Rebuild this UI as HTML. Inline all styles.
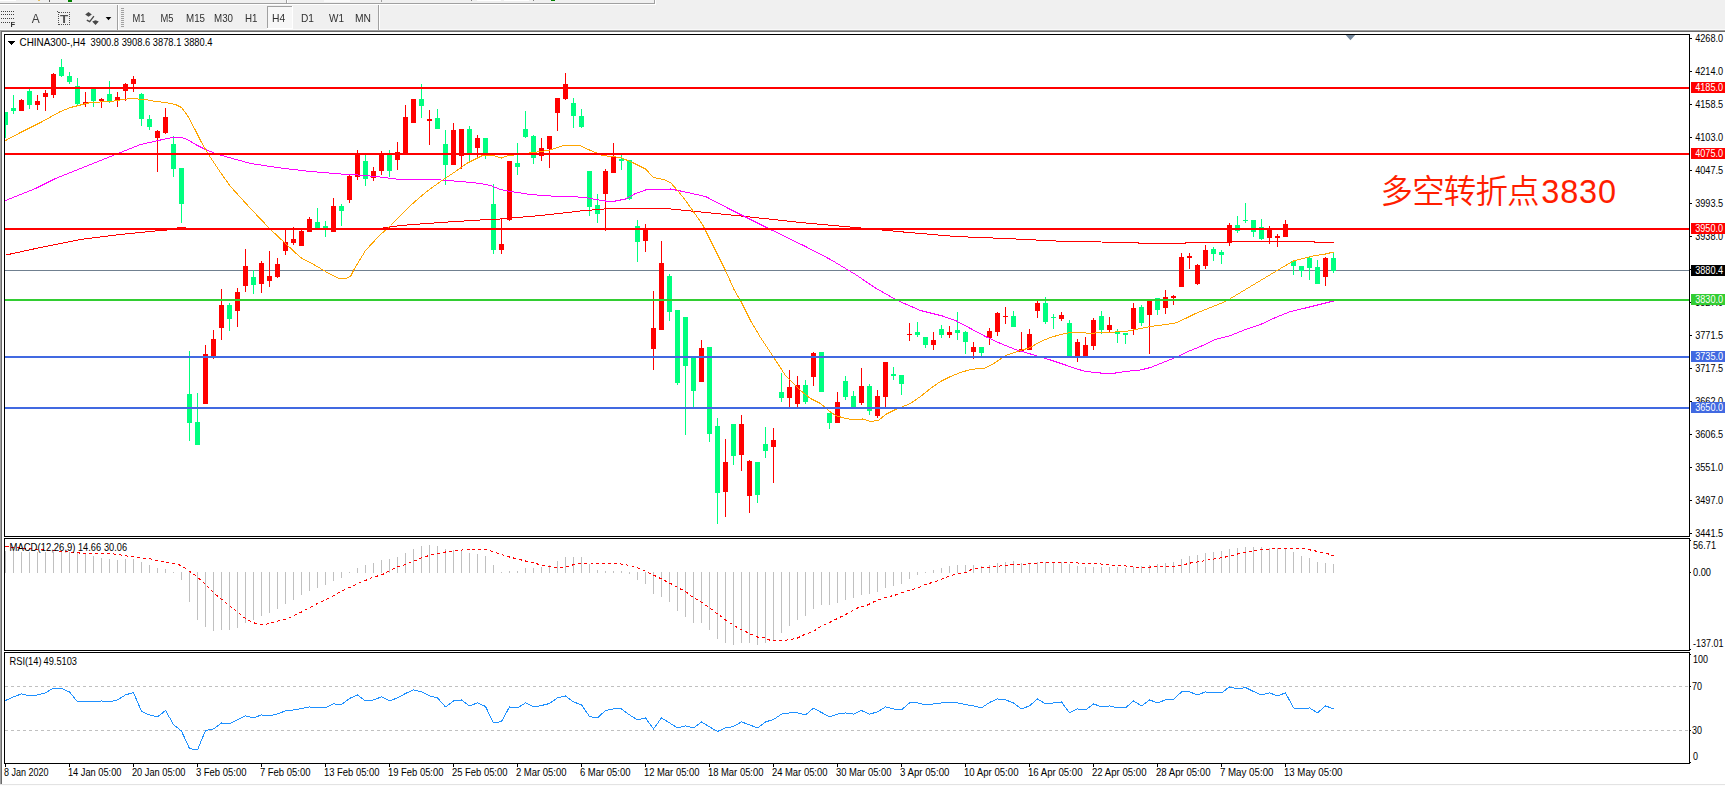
<!DOCTYPE html>
<html lang="zh"><head><meta charset="utf-8"><title>CHINA300-,H4</title>
<style>html,body{margin:0;padding:0;background:#fff;}body{width:1725px;height:786px;overflow:hidden;position:relative;}svg{position:absolute;left:0;top:0;display:block;}text{font-family:"Liberation Sans", sans-serif;white-space:pre;}.cn{font-family:"Liberation Sans","Noto Sans CJK SC",sans-serif;font-weight:350;}</style></head><body>
<svg width="1725" height="786" viewBox="0 0 1725 786" shape-rendering="crispEdges">
<defs><filter id="idf" x="0" y="0" width="1" height="1" color-interpolation-filters="sRGB"><feOffset dx="0" dy="0"/></filter></defs>
<g id="toolbar">
<rect x="0" y="0" width="1725" height="30" fill="#f0f0f0"/>
<rect x="0" y="3" width="655" height="1" fill="#a0a0a0"/>
<rect x="0" y="4" width="656" height="1" fill="#ffffff"/>
<rect x="654" y="0" width="1" height="3" fill="#a0a0a0"/>
<rect x="655" y="0" width="1" height="4" fill="#ffffff"/>
<rect x="477" y="0" width="24" height="1" fill="#ffffff"/>
<rect x="504" y="0" width="25" height="1" fill="#ffffff"/>
<rect x="471" y="0" width="1" height="1" fill="#808080"/>
<rect x="533" y="0" width="1" height="1" fill="#808080"/>
<rect x="551" y="0" width="4" height="1" fill="#008000"/>
<rect x="0" y="29" width="1725" height="1" fill="#fafafa"/>
<rect x="0" y="30" width="1725" height="1" fill="#a0a0a0"/>
<rect x="1" y="31" width="1724" height="1" fill="#696969"/>
<rect x="0" y="0" width="16" height="1" fill="#ffffff"/>
<rect x="38" y="0" width="2" height="1" fill="#e8c060"/>
<rect x="49" y="0" width="1" height="2" fill="#606060"/>
<rect x="68" y="0" width="4" height="2" fill="#008000"/>
<rect x="286" y="0" width="1" height="3" fill="#a0a0a0"/>
<rect x="287" y="0" width="1" height="3" fill="#ffffff"/>
<rect x="117" y="5" width="1" height="25" fill="#a0a0a0"/>
<rect x="118" y="5" width="1" height="25" fill="#ffffff"/>
<rect x="378" y="5" width="1" height="25" fill="#a0a0a0"/>
<rect x="379" y="5" width="1" height="25" fill="#ffffff"/>
<rect x="324" y="0" width="26" height="2" fill="#fafafa"/>
<rect x="381" y="0" width="1" height="2" fill="#a0a0a0"/>
<rect x="121" y="8" width="3" height="1" fill="#a0a0a0"/>
<rect x="121" y="10" width="3" height="1" fill="#a0a0a0"/>
<rect x="121" y="12" width="3" height="1" fill="#a0a0a0"/>
<rect x="121" y="14" width="3" height="1" fill="#a0a0a0"/>
<rect x="121" y="16" width="3" height="1" fill="#a0a0a0"/>
<rect x="121" y="18" width="3" height="1" fill="#a0a0a0"/>
<rect x="121" y="20" width="3" height="1" fill="#a0a0a0"/>
<rect x="121" y="22" width="3" height="1" fill="#a0a0a0"/>
<rect x="121" y="24" width="3" height="1" fill="#a0a0a0"/>
<rect x="121" y="26" width="3" height="1" fill="#a0a0a0"/>
<g filter="url(#idf)">
<rect x="1" y="11" width="1" height="1" fill="#404040"/>
<rect x="3" y="11" width="1" height="1" fill="#404040"/>
<rect x="5" y="11" width="1" height="1" fill="#404040"/>
<rect x="7" y="11" width="1" height="1" fill="#404040"/>
<rect x="9" y="11" width="1" height="1" fill="#404040"/>
<rect x="11" y="11" width="1" height="1" fill="#404040"/>
<rect x="13" y="11" width="1" height="1" fill="#404040"/>
<rect x="1" y="14" width="1" height="1" fill="#404040"/>
<rect x="3" y="14" width="1" height="1" fill="#404040"/>
<rect x="5" y="14" width="1" height="1" fill="#404040"/>
<rect x="7" y="14" width="1" height="1" fill="#404040"/>
<rect x="9" y="14" width="1" height="1" fill="#404040"/>
<rect x="11" y="14" width="1" height="1" fill="#404040"/>
<rect x="13" y="14" width="1" height="1" fill="#404040"/>
<rect x="1" y="18" width="1" height="1" fill="#404040"/>
<rect x="3" y="18" width="1" height="1" fill="#404040"/>
<rect x="5" y="18" width="1" height="1" fill="#404040"/>
<rect x="7" y="18" width="1" height="1" fill="#404040"/>
<rect x="9" y="18" width="1" height="1" fill="#404040"/>
<rect x="11" y="18" width="1" height="1" fill="#404040"/>
<rect x="13" y="18" width="1" height="1" fill="#404040"/>
<rect x="1" y="22" width="1" height="1" fill="#404040"/>
<rect x="3" y="22" width="1" height="1" fill="#404040"/>
<rect x="5" y="22" width="1" height="1" fill="#404040"/>
<rect x="7" y="22" width="1" height="1" fill="#404040"/>
<rect x="9" y="22" width="1" height="1" fill="#404040"/>
<text x="10.6" y="27" fill="#303030" font-size="7.4" textLength="4.6" lengthAdjust="spacingAndGlyphs" font-weight="bold">F</text>
<text x="31.8" y="23" fill="#404040" font-size="12.9" textLength="8" lengthAdjust="spacingAndGlyphs">A</text>
<rect x="59" y="12" width="1" height="1" fill="#505050"/>
<rect x="59" y="24" width="1" height="1" fill="#505050"/>
<rect x="61" y="12" width="1" height="1" fill="#505050"/>
<rect x="61" y="24" width="1" height="1" fill="#505050"/>
<rect x="63" y="12" width="1" height="1" fill="#505050"/>
<rect x="63" y="24" width="1" height="1" fill="#505050"/>
<rect x="65" y="12" width="1" height="1" fill="#505050"/>
<rect x="65" y="24" width="1" height="1" fill="#505050"/>
<rect x="67" y="12" width="1" height="1" fill="#505050"/>
<rect x="67" y="24" width="1" height="1" fill="#505050"/>
<rect x="69" y="12" width="1" height="1" fill="#505050"/>
<rect x="69" y="24" width="1" height="1" fill="#505050"/>
<rect x="58" y="14" width="1" height="1" fill="#505050"/>
<rect x="69" y="14" width="1" height="1" fill="#505050"/>
<rect x="58" y="16" width="1" height="1" fill="#505050"/>
<rect x="69" y="16" width="1" height="1" fill="#505050"/>
<rect x="58" y="18" width="1" height="1" fill="#505050"/>
<rect x="69" y="18" width="1" height="1" fill="#505050"/>
<rect x="58" y="20" width="1" height="1" fill="#505050"/>
<rect x="69" y="20" width="1" height="1" fill="#505050"/>
<rect x="58" y="22" width="1" height="1" fill="#505050"/>
<rect x="69" y="22" width="1" height="1" fill="#505050"/>
<rect x="58" y="24" width="1" height="1" fill="#505050"/>
<rect x="69" y="24" width="1" height="1" fill="#505050"/>
<rect x="57" y="11" width="1" height="1" fill="#505050"/>
<rect x="58" y="12" width="1" height="1" fill="#505050"/>
<text x="59.9" y="23" fill="#505050" font-size="10.8" textLength="8.2" lengthAdjust="spacingAndGlyphs" font-weight="bold">T</text>
<path d="M85.2 14.6L88.5 12L91.8 14.6L88.5 16.7zM92.2 21.6L95.5 20.2L98.8 21.6L95.5 25z" fill="#484848" shape-rendering="geometricPrecision"/>
<path d="M86.8 20.2L89.7 21.7L93.9 16.2" fill="none" stroke="#484848" stroke-width="1.3" shape-rendering="geometricPrecision"/>
<path d="M105.7 17h5.6l-2.8 3.3z" fill="#000" shape-rendering="geometricPrecision"/>
<rect x="267" y="6" width="26" height="23" fill="#f7f7f7"/>
<rect x="267" y="6" width="25" height="1" fill="#a0a0a0"/>
<rect x="267" y="6" width="1" height="22" fill="#a0a0a0"/>
<rect x="267" y="28" width="26" height="1" fill="#ffffff"/>
<rect x="292" y="6" width="1" height="23" fill="#ffffff"/>
<text x="132.5" y="22" fill="#303030" font-size="10.3" textLength="13" lengthAdjust="spacingAndGlyphs">M1</text>
<text x="160.5" y="22" fill="#303030" font-size="10.3" textLength="13" lengthAdjust="spacingAndGlyphs">M5</text>
<text x="186" y="22" fill="#303030" font-size="10.3" textLength="19" lengthAdjust="spacingAndGlyphs">M15</text>
<text x="214" y="22" fill="#303030" font-size="10.3" textLength="19" lengthAdjust="spacingAndGlyphs">M30</text>
<text x="245" y="22" fill="#303030" font-size="10.3" textLength="12.5" lengthAdjust="spacingAndGlyphs">H1</text>
<text x="272" y="22" fill="#303030" font-size="10.3" textLength="13.2" lengthAdjust="spacingAndGlyphs">H4</text>
<text x="301" y="22" fill="#303030" font-size="10.3" textLength="13" lengthAdjust="spacingAndGlyphs">D1</text>
<text x="329" y="22" fill="#303030" font-size="10.3" textLength="15" lengthAdjust="spacingAndGlyphs">W1</text>
<text x="355" y="22" fill="#303030" font-size="10.3" textLength="16" lengthAdjust="spacingAndGlyphs">MN</text>
</g>
</g>
<rect x="0" y="31" width="1" height="754" fill="#a0a0a0"/>
<rect x="1" y="32" width="1" height="752" fill="#696969"/>
<rect x="0" y="784" width="1725" height="1" fill="#e3e3e3"/>
<rect x="0" y="785" width="1725" height="1" fill="#fcfcfc"/>
<rect x="4" y="34" width="1686" height="1" fill="#000"/>
<rect x="4" y="536" width="1686" height="1" fill="#000"/>
<rect x="4" y="34" width="1" height="503" fill="#000"/>
<rect x="1689" y="34" width="1" height="503" fill="#000"/>
<rect x="4" y="538" width="1686" height="1" fill="#000"/>
<rect x="4" y="650" width="1686" height="1" fill="#000"/>
<rect x="4" y="538" width="1" height="113" fill="#000"/>
<rect x="1689" y="538" width="1" height="113" fill="#000"/>
<rect x="4" y="652" width="1686" height="1" fill="#000"/>
<rect x="4" y="763" width="1686" height="1" fill="#000"/>
<rect x="4" y="652" width="1" height="112" fill="#000"/>
<rect x="1689" y="652" width="1" height="112" fill="#000"/>
<defs><clipPath id="cm"><rect x="5" y="35" width="1684" height="501"/></clipPath></defs>
<g id="main" clip-path="url(#cm)">
<rect x="5" y="270" width="1684" height="1" fill="#708090"/>
<rect x="5" y="112" width="1" height="26" fill="#00ff7f"/>
<rect x="3" y="112" width="5" height="13" fill="#00ff7f"/>
<rect x="13" y="95" width="1" height="19" fill="#00ff7f"/>
<rect x="11" y="108" width="5" height="3" fill="#00ff7f"/>
<rect x="21" y="99" width="1" height="12" fill="#ff0000"/>
<rect x="19" y="100" width="5" height="11" fill="#ff0000"/>
<rect x="29" y="89" width="1" height="20" fill="#00ff7f"/>
<rect x="27" y="91" width="5" height="14" fill="#00ff7f"/>
<rect x="37" y="95" width="1" height="15" fill="#ff0000"/>
<rect x="35" y="101" width="5" height="4" fill="#ff0000"/>
<rect x="45" y="90" width="1" height="21" fill="#ff0000"/>
<rect x="43" y="93" width="5" height="4" fill="#ff0000"/>
<rect x="53" y="73" width="1" height="25" fill="#ff0000"/>
<rect x="51" y="74" width="5" height="21" fill="#ff0000"/>
<rect x="61" y="59" width="1" height="18" fill="#00ff7f"/>
<rect x="59" y="67" width="5" height="9" fill="#00ff7f"/>
<rect x="69" y="72" width="1" height="12" fill="#00ff7f"/>
<rect x="67" y="76" width="5" height="6" fill="#00ff7f"/>
<rect x="77" y="78" width="1" height="27" fill="#00ff7f"/>
<rect x="75" y="86" width="5" height="18" fill="#00ff7f"/>
<rect x="85" y="92" width="1" height="15" fill="#ff0000"/>
<rect x="83" y="102" width="5" height="2" fill="#ff0000"/>
<rect x="93" y="89" width="1" height="18" fill="#00ff7f"/>
<rect x="91" y="89" width="5" height="12" fill="#00ff7f"/>
<rect x="101" y="98" width="1" height="10" fill="#ff0000"/>
<rect x="99" y="99" width="5" height="2" fill="#ff0000"/>
<rect x="109" y="81" width="1" height="22" fill="#00ff7f"/>
<rect x="107" y="94" width="5" height="7" fill="#00ff7f"/>
<rect x="117" y="92" width="1" height="15" fill="#ff0000"/>
<rect x="115" y="97" width="5" height="4" fill="#ff0000"/>
<rect x="125" y="83" width="1" height="18" fill="#ff0000"/>
<rect x="123" y="84" width="5" height="7" fill="#ff0000"/>
<rect x="133" y="76" width="1" height="16" fill="#ff0000"/>
<rect x="131" y="79" width="5" height="5" fill="#ff0000"/>
<rect x="141" y="93" width="1" height="33" fill="#00ff7f"/>
<rect x="139" y="94" width="5" height="25" fill="#00ff7f"/>
<rect x="149" y="115" width="1" height="15" fill="#00ff7f"/>
<rect x="147" y="119" width="5" height="8" fill="#00ff7f"/>
<rect x="157" y="130" width="1" height="42" fill="#ff0000"/>
<rect x="155" y="131" width="5" height="7" fill="#ff0000"/>
<rect x="165" y="108" width="1" height="26" fill="#ff0000"/>
<rect x="163" y="117" width="5" height="16" fill="#ff0000"/>
<rect x="173" y="136" width="1" height="41" fill="#00ff7f"/>
<rect x="171" y="144" width="5" height="25" fill="#00ff7f"/>
<rect x="181" y="168" width="1" height="55" fill="#00ff7f"/>
<rect x="179" y="168" width="5" height="36" fill="#00ff7f"/>
<rect x="189" y="351" width="1" height="90" fill="#00ff7f"/>
<rect x="187" y="394" width="5" height="29" fill="#00ff7f"/>
<rect x="197" y="393" width="1" height="52" fill="#00ff7f"/>
<rect x="195" y="422" width="5" height="23" fill="#00ff7f"/>
<rect x="205" y="345" width="1" height="59" fill="#ff0000"/>
<rect x="203" y="354" width="5" height="50" fill="#ff0000"/>
<rect x="213" y="330" width="1" height="29" fill="#ff0000"/>
<rect x="211" y="339" width="5" height="18" fill="#ff0000"/>
<rect x="221" y="289" width="1" height="51" fill="#ff0000"/>
<rect x="219" y="305" width="5" height="23" fill="#ff0000"/>
<rect x="229" y="303" width="1" height="28" fill="#00ff7f"/>
<rect x="227" y="305" width="5" height="14" fill="#00ff7f"/>
<rect x="237" y="288" width="1" height="39" fill="#ff0000"/>
<rect x="235" y="292" width="5" height="19" fill="#ff0000"/>
<rect x="245" y="249" width="1" height="43" fill="#ff0000"/>
<rect x="243" y="266" width="5" height="20" fill="#ff0000"/>
<rect x="253" y="270" width="1" height="24" fill="#00ff7f"/>
<rect x="251" y="277" width="5" height="8" fill="#00ff7f"/>
<rect x="261" y="261" width="1" height="32" fill="#ff0000"/>
<rect x="259" y="263" width="5" height="21" fill="#ff0000"/>
<rect x="269" y="251" width="1" height="36" fill="#ff0000"/>
<rect x="267" y="276" width="5" height="5" fill="#ff0000"/>
<rect x="277" y="258" width="1" height="20" fill="#ff0000"/>
<rect x="275" y="264" width="5" height="13" fill="#ff0000"/>
<rect x="285" y="230" width="1" height="25" fill="#ff0000"/>
<rect x="283" y="242" width="5" height="9" fill="#ff0000"/>
<rect x="293" y="227" width="1" height="18" fill="#ff0000"/>
<rect x="291" y="239" width="5" height="4" fill="#ff0000"/>
<rect x="301" y="230" width="1" height="16" fill="#ff0000"/>
<rect x="299" y="231" width="5" height="15" fill="#ff0000"/>
<rect x="309" y="217" width="1" height="15" fill="#ff0000"/>
<rect x="307" y="219" width="5" height="13" fill="#ff0000"/>
<rect x="317" y="208" width="1" height="20" fill="#00ff7f"/>
<rect x="315" y="222" width="5" height="6" fill="#00ff7f"/>
<rect x="325" y="221" width="1" height="16" fill="#00ff7f"/>
<rect x="323" y="226" width="5" height="2" fill="#00ff7f"/>
<rect x="333" y="198" width="1" height="34" fill="#ff0000"/>
<rect x="331" y="206" width="5" height="26" fill="#ff0000"/>
<rect x="341" y="204" width="1" height="22" fill="#00ff7f"/>
<rect x="339" y="206" width="5" height="5" fill="#00ff7f"/>
<rect x="349" y="174" width="1" height="29" fill="#ff0000"/>
<rect x="347" y="176" width="5" height="24" fill="#ff0000"/>
<rect x="357" y="150" width="1" height="30" fill="#ff0000"/>
<rect x="355" y="154" width="5" height="23" fill="#ff0000"/>
<rect x="365" y="155" width="1" height="31" fill="#00ff7f"/>
<rect x="363" y="161" width="5" height="18" fill="#00ff7f"/>
<rect x="373" y="167" width="1" height="14" fill="#ff0000"/>
<rect x="371" y="171" width="5" height="7" fill="#ff0000"/>
<rect x="381" y="151" width="1" height="24" fill="#ff0000"/>
<rect x="379" y="154" width="5" height="17" fill="#ff0000"/>
<rect x="389" y="150" width="1" height="27" fill="#00ff7f"/>
<rect x="387" y="155" width="5" height="16" fill="#00ff7f"/>
<rect x="397" y="142" width="1" height="28" fill="#ff0000"/>
<rect x="395" y="152" width="5" height="8" fill="#ff0000"/>
<rect x="405" y="105" width="1" height="49" fill="#ff0000"/>
<rect x="403" y="117" width="5" height="37" fill="#ff0000"/>
<rect x="413" y="99" width="1" height="24" fill="#ff0000"/>
<rect x="411" y="99" width="5" height="24" fill="#ff0000"/>
<rect x="421" y="84" width="1" height="34" fill="#00ff7f"/>
<rect x="419" y="99" width="5" height="7" fill="#00ff7f"/>
<rect x="429" y="110" width="1" height="35" fill="#ff0000"/>
<rect x="427" y="119" width="5" height="2" fill="#ff0000"/>
<rect x="437" y="109" width="1" height="20" fill="#00ff7f"/>
<rect x="435" y="118" width="5" height="11" fill="#00ff7f"/>
<rect x="445" y="130" width="1" height="55" fill="#00ff7f"/>
<rect x="443" y="144" width="5" height="21" fill="#00ff7f"/>
<rect x="453" y="123" width="1" height="42" fill="#ff0000"/>
<rect x="451" y="130" width="5" height="35" fill="#ff0000"/>
<rect x="461" y="129" width="1" height="40" fill="#ff0000"/>
<rect x="459" y="129" width="5" height="27" fill="#ff0000"/>
<rect x="469" y="126" width="1" height="37" fill="#00ff7f"/>
<rect x="467" y="129" width="5" height="24" fill="#00ff7f"/>
<rect x="477" y="135" width="1" height="22" fill="#ff0000"/>
<rect x="475" y="138" width="5" height="10" fill="#ff0000"/>
<rect x="485" y="138" width="1" height="21" fill="#00ff7f"/>
<rect x="483" y="138" width="5" height="15" fill="#00ff7f"/>
<rect x="493" y="184" width="1" height="70" fill="#00ff7f"/>
<rect x="491" y="204" width="5" height="46" fill="#00ff7f"/>
<rect x="501" y="218" width="1" height="36" fill="#ff0000"/>
<rect x="499" y="244" width="5" height="6" fill="#ff0000"/>
<rect x="509" y="161" width="1" height="60" fill="#ff0000"/>
<rect x="507" y="161" width="5" height="59" fill="#ff0000"/>
<rect x="517" y="143" width="1" height="32" fill="#00ff7f"/>
<rect x="515" y="163" width="5" height="4" fill="#00ff7f"/>
<rect x="525" y="111" width="1" height="27" fill="#00ff7f"/>
<rect x="523" y="129" width="5" height="8" fill="#00ff7f"/>
<rect x="533" y="135" width="1" height="29" fill="#00ff7f"/>
<rect x="531" y="136" width="5" height="22" fill="#00ff7f"/>
<rect x="541" y="138" width="1" height="23" fill="#ff0000"/>
<rect x="539" y="148" width="5" height="8" fill="#ff0000"/>
<rect x="549" y="136" width="1" height="32" fill="#ff0000"/>
<rect x="547" y="136" width="5" height="13" fill="#ff0000"/>
<rect x="557" y="98" width="1" height="33" fill="#ff0000"/>
<rect x="555" y="98" width="5" height="15" fill="#ff0000"/>
<rect x="565" y="73" width="1" height="27" fill="#ff0000"/>
<rect x="563" y="84" width="5" height="15" fill="#ff0000"/>
<rect x="573" y="98" width="1" height="30" fill="#00ff7f"/>
<rect x="571" y="103" width="5" height="13" fill="#00ff7f"/>
<rect x="581" y="109" width="1" height="19" fill="#00ff7f"/>
<rect x="579" y="116" width="5" height="11" fill="#00ff7f"/>
<rect x="589" y="171" width="1" height="45" fill="#00ff7f"/>
<rect x="587" y="171" width="5" height="36" fill="#00ff7f"/>
<rect x="597" y="194" width="1" height="29" fill="#00ff7f"/>
<rect x="595" y="205" width="5" height="9" fill="#00ff7f"/>
<rect x="605" y="169" width="1" height="62" fill="#ff0000"/>
<rect x="603" y="171" width="5" height="23" fill="#ff0000"/>
<rect x="613" y="143" width="1" height="30" fill="#ff0000"/>
<rect x="611" y="156" width="5" height="17" fill="#ff0000"/>
<rect x="621" y="155" width="1" height="15" fill="#00ff7f"/>
<rect x="619" y="159" width="5" height="2" fill="#00ff7f"/>
<rect x="629" y="160" width="1" height="40" fill="#00ff7f"/>
<rect x="627" y="160" width="5" height="39" fill="#00ff7f"/>
<rect x="637" y="220" width="1" height="42" fill="#00ff7f"/>
<rect x="635" y="226" width="5" height="16" fill="#00ff7f"/>
<rect x="645" y="224" width="1" height="28" fill="#ff0000"/>
<rect x="643" y="230" width="5" height="11" fill="#ff0000"/>
<rect x="653" y="291" width="1" height="79" fill="#ff0000"/>
<rect x="651" y="328" width="5" height="21" fill="#ff0000"/>
<rect x="661" y="241" width="1" height="89" fill="#ff0000"/>
<rect x="659" y="263" width="5" height="67" fill="#ff0000"/>
<rect x="669" y="274" width="1" height="47" fill="#00ff7f"/>
<rect x="667" y="276" width="5" height="36" fill="#00ff7f"/>
<rect x="677" y="310" width="1" height="75" fill="#00ff7f"/>
<rect x="675" y="310" width="5" height="73" fill="#00ff7f"/>
<rect x="685" y="317" width="1" height="118" fill="#00ff7f"/>
<rect x="683" y="317" width="5" height="49" fill="#00ff7f"/>
<rect x="693" y="358" width="1" height="49" fill="#00ff7f"/>
<rect x="691" y="358" width="5" height="33" fill="#00ff7f"/>
<rect x="701" y="340" width="1" height="42" fill="#ff0000"/>
<rect x="699" y="348" width="5" height="34" fill="#ff0000"/>
<rect x="709" y="347" width="1" height="95" fill="#00ff7f"/>
<rect x="707" y="347" width="5" height="87" fill="#00ff7f"/>
<rect x="717" y="418" width="1" height="106" fill="#00ff7f"/>
<rect x="715" y="426" width="5" height="67" fill="#00ff7f"/>
<rect x="725" y="439" width="1" height="78" fill="#ff0000"/>
<rect x="723" y="462" width="5" height="30" fill="#ff0000"/>
<rect x="733" y="424" width="1" height="41" fill="#00ff7f"/>
<rect x="731" y="424" width="5" height="32" fill="#00ff7f"/>
<rect x="741" y="415" width="1" height="56" fill="#ff0000"/>
<rect x="739" y="424" width="5" height="31" fill="#ff0000"/>
<rect x="749" y="460" width="1" height="53" fill="#ff0000"/>
<rect x="747" y="461" width="5" height="35" fill="#ff0000"/>
<rect x="757" y="462" width="1" height="41" fill="#00ff7f"/>
<rect x="755" y="462" width="5" height="33" fill="#00ff7f"/>
<rect x="765" y="427" width="1" height="31" fill="#00ff7f"/>
<rect x="763" y="444" width="5" height="7" fill="#00ff7f"/>
<rect x="773" y="428" width="1" height="55" fill="#ff0000"/>
<rect x="771" y="440" width="5" height="7" fill="#ff0000"/>
<rect x="781" y="373" width="1" height="29" fill="#00ff7f"/>
<rect x="779" y="392" width="5" height="6" fill="#00ff7f"/>
<rect x="789" y="370" width="1" height="37" fill="#ff0000"/>
<rect x="787" y="387" width="5" height="11" fill="#ff0000"/>
<rect x="797" y="376" width="1" height="31" fill="#ff0000"/>
<rect x="795" y="385" width="5" height="19" fill="#ff0000"/>
<rect x="805" y="380" width="1" height="24" fill="#00ff7f"/>
<rect x="803" y="385" width="5" height="17" fill="#00ff7f"/>
<rect x="813" y="352" width="1" height="34" fill="#ff0000"/>
<rect x="811" y="353" width="5" height="24" fill="#ff0000"/>
<rect x="821" y="352" width="1" height="40" fill="#00ff7f"/>
<rect x="819" y="352" width="5" height="40" fill="#00ff7f"/>
<rect x="829" y="413" width="1" height="16" fill="#00ff7f"/>
<rect x="827" y="413" width="5" height="10" fill="#00ff7f"/>
<rect x="837" y="392" width="1" height="31" fill="#ff0000"/>
<rect x="835" y="402" width="5" height="21" fill="#ff0000"/>
<rect x="845" y="376" width="1" height="24" fill="#00ff7f"/>
<rect x="843" y="381" width="5" height="16" fill="#00ff7f"/>
<rect x="853" y="391" width="1" height="17" fill="#00ff7f"/>
<rect x="851" y="396" width="5" height="12" fill="#00ff7f"/>
<rect x="861" y="368" width="1" height="37" fill="#ff0000"/>
<rect x="859" y="386" width="5" height="17" fill="#ff0000"/>
<rect x="869" y="384" width="1" height="31" fill="#00ff7f"/>
<rect x="867" y="386" width="5" height="25" fill="#00ff7f"/>
<rect x="877" y="390" width="1" height="28" fill="#ff0000"/>
<rect x="875" y="396" width="5" height="20" fill="#ff0000"/>
<rect x="885" y="362" width="1" height="46" fill="#ff0000"/>
<rect x="883" y="362" width="5" height="35" fill="#ff0000"/>
<rect x="893" y="367" width="1" height="13" fill="#00ff7f"/>
<rect x="891" y="374" width="5" height="2" fill="#00ff7f"/>
<rect x="901" y="375" width="1" height="20" fill="#00ff7f"/>
<rect x="899" y="375" width="5" height="9" fill="#00ff7f"/>
<rect x="909" y="323" width="1" height="18" fill="#ff0000"/>
<rect x="907" y="334" width="5" height="1" fill="#ff0000"/>
<rect x="917" y="322" width="1" height="15" fill="#00ff7f"/>
<rect x="915" y="332" width="5" height="3" fill="#00ff7f"/>
<rect x="925" y="337" width="1" height="11" fill="#00ff7f"/>
<rect x="923" y="337" width="5" height="8" fill="#00ff7f"/>
<rect x="933" y="332" width="1" height="18" fill="#ff0000"/>
<rect x="931" y="340" width="5" height="5" fill="#ff0000"/>
<rect x="941" y="325" width="1" height="13" fill="#00ff7f"/>
<rect x="939" y="329" width="5" height="6" fill="#00ff7f"/>
<rect x="949" y="326" width="1" height="12" fill="#ff0000"/>
<rect x="947" y="332" width="5" height="3" fill="#ff0000"/>
<rect x="957" y="312" width="1" height="28" fill="#00ff7f"/>
<rect x="955" y="330" width="5" height="3" fill="#00ff7f"/>
<rect x="965" y="331" width="1" height="23" fill="#00ff7f"/>
<rect x="963" y="332" width="5" height="10" fill="#00ff7f"/>
<rect x="973" y="342" width="1" height="17" fill="#ff0000"/>
<rect x="971" y="347" width="5" height="5" fill="#ff0000"/>
<rect x="981" y="347" width="1" height="9" fill="#00ff7f"/>
<rect x="979" y="347" width="5" height="6" fill="#00ff7f"/>
<rect x="989" y="328" width="1" height="17" fill="#ff0000"/>
<rect x="987" y="331" width="5" height="7" fill="#ff0000"/>
<rect x="997" y="312" width="1" height="24" fill="#ff0000"/>
<rect x="995" y="313" width="5" height="19" fill="#ff0000"/>
<rect x="1005" y="307" width="1" height="17" fill="#ff0000"/>
<rect x="1003" y="316" width="5" height="1" fill="#ff0000"/>
<rect x="1013" y="311" width="1" height="16" fill="#00ff7f"/>
<rect x="1011" y="316" width="5" height="11" fill="#00ff7f"/>
<rect x="1021" y="332" width="1" height="20" fill="#ff0000"/>
<rect x="1019" y="349" width="5" height="3" fill="#ff0000"/>
<rect x="1029" y="329" width="1" height="21" fill="#ff0000"/>
<rect x="1027" y="334" width="5" height="16" fill="#ff0000"/>
<rect x="1037" y="301" width="1" height="17" fill="#ff0000"/>
<rect x="1035" y="303" width="5" height="8" fill="#ff0000"/>
<rect x="1045" y="297" width="1" height="27" fill="#00ff7f"/>
<rect x="1043" y="303" width="5" height="19" fill="#00ff7f"/>
<rect x="1053" y="314" width="1" height="15" fill="#00ff7f"/>
<rect x="1051" y="317" width="5" height="1" fill="#00ff7f"/>
<rect x="1061" y="312" width="1" height="9" fill="#ff0000"/>
<rect x="1059" y="315" width="5" height="4" fill="#ff0000"/>
<rect x="1069" y="320" width="1" height="36" fill="#00ff7f"/>
<rect x="1067" y="323" width="5" height="33" fill="#00ff7f"/>
<rect x="1077" y="339" width="1" height="23" fill="#ff0000"/>
<rect x="1075" y="342" width="5" height="14" fill="#ff0000"/>
<rect x="1085" y="337" width="1" height="19" fill="#ff0000"/>
<rect x="1083" y="345" width="5" height="11" fill="#ff0000"/>
<rect x="1093" y="318" width="1" height="32" fill="#ff0000"/>
<rect x="1091" y="320" width="5" height="26" fill="#ff0000"/>
<rect x="1101" y="311" width="1" height="23" fill="#00ff7f"/>
<rect x="1099" y="316" width="5" height="14" fill="#00ff7f"/>
<rect x="1109" y="317" width="1" height="15" fill="#ff0000"/>
<rect x="1107" y="325" width="5" height="5" fill="#ff0000"/>
<rect x="1117" y="329" width="1" height="14" fill="#00ff7f"/>
<rect x="1115" y="332" width="5" height="2" fill="#00ff7f"/>
<rect x="1125" y="333" width="1" height="11" fill="#00ff7f"/>
<rect x="1123" y="333" width="5" height="2" fill="#00ff7f"/>
<rect x="1133" y="303" width="1" height="32" fill="#ff0000"/>
<rect x="1131" y="308" width="5" height="21" fill="#ff0000"/>
<rect x="1141" y="305" width="1" height="21" fill="#00ff7f"/>
<rect x="1139" y="307" width="5" height="16" fill="#00ff7f"/>
<rect x="1149" y="301" width="1" height="53" fill="#ff0000"/>
<rect x="1147" y="301" width="5" height="14" fill="#ff0000"/>
<rect x="1157" y="298" width="1" height="17" fill="#00ff7f"/>
<rect x="1155" y="298" width="5" height="12" fill="#00ff7f"/>
<rect x="1165" y="290" width="1" height="24" fill="#ff0000"/>
<rect x="1163" y="297" width="5" height="11" fill="#ff0000"/>
<rect x="1173" y="295" width="1" height="10" fill="#ff0000"/>
<rect x="1171" y="296" width="5" height="2" fill="#ff0000"/>
<rect x="1181" y="253" width="1" height="34" fill="#ff0000"/>
<rect x="1179" y="257" width="5" height="30" fill="#ff0000"/>
<rect x="1189" y="253" width="1" height="16" fill="#ff0000"/>
<rect x="1187" y="256" width="5" height="2" fill="#ff0000"/>
<rect x="1197" y="264" width="1" height="21" fill="#ff0000"/>
<rect x="1195" y="265" width="5" height="19" fill="#ff0000"/>
<rect x="1205" y="245" width="1" height="24" fill="#ff0000"/>
<rect x="1203" y="250" width="5" height="16" fill="#ff0000"/>
<rect x="1213" y="247" width="1" height="14" fill="#00ff7f"/>
<rect x="1211" y="249" width="5" height="5" fill="#00ff7f"/>
<rect x="1221" y="250" width="1" height="14" fill="#00ff7f"/>
<rect x="1219" y="252" width="5" height="3" fill="#00ff7f"/>
<rect x="1229" y="223" width="1" height="23" fill="#ff0000"/>
<rect x="1227" y="225" width="5" height="18" fill="#ff0000"/>
<rect x="1237" y="216" width="1" height="17" fill="#00ff7f"/>
<rect x="1235" y="225" width="5" height="6" fill="#00ff7f"/>
<rect x="1245" y="203" width="1" height="20" fill="#00ff7f"/>
<rect x="1243" y="220" width="5" height="1" fill="#00ff7f"/>
<rect x="1253" y="220" width="1" height="17" fill="#00ff7f"/>
<rect x="1251" y="220" width="5" height="12" fill="#00ff7f"/>
<rect x="1261" y="219" width="1" height="21" fill="#00ff7f"/>
<rect x="1259" y="227" width="5" height="12" fill="#00ff7f"/>
<rect x="1269" y="226" width="1" height="18" fill="#ff0000"/>
<rect x="1267" y="228" width="5" height="10" fill="#ff0000"/>
<rect x="1277" y="234" width="1" height="13" fill="#ff0000"/>
<rect x="1275" y="236" width="5" height="2" fill="#ff0000"/>
<rect x="1285" y="220" width="1" height="17" fill="#ff0000"/>
<rect x="1283" y="224" width="5" height="13" fill="#ff0000"/>
<rect x="1293" y="260" width="1" height="15" fill="#00ff7f"/>
<rect x="1291" y="261" width="5" height="5" fill="#00ff7f"/>
<rect x="1301" y="266" width="1" height="11" fill="#00ff7f"/>
<rect x="1299" y="266" width="5" height="5" fill="#00ff7f"/>
<rect x="1309" y="256" width="1" height="24" fill="#00ff7f"/>
<rect x="1307" y="258" width="5" height="10" fill="#00ff7f"/>
<rect x="1317" y="260" width="1" height="24" fill="#00ff7f"/>
<rect x="1315" y="267" width="5" height="17" fill="#00ff7f"/>
<rect x="1325" y="257" width="1" height="29" fill="#ff0000"/>
<rect x="1323" y="258" width="5" height="19" fill="#ff0000"/>
<rect x="1333" y="253" width="1" height="20" fill="#00ff7f"/>
<rect x="1331" y="258" width="5" height="13" fill="#00ff7f"/>
<rect x="177" y="227" width="9" height="1" fill="#ff0000"/>
<polyline points="5.5,255.1 40.5,247.5 80.5,239.5 120.5,234.5 160.5,230.5 180.5,229.0 376.5,229.0 400.5,225.5 440.5,222.5 480.5,220.0 500.5,219.0 540.5,215.5 580.5,211.0 610.5,208.5 640.5,208.5 665.5,208.5 685.5,210.5 742.5,216.2 805.5,223.0 855.5,227.5 905.5,232.2 955.5,236.5 1005.5,238.5 1055.5,241.0 1100.5,242.0 1137.5,242.5 1139.5,243.5 1184.5,243.5 1186.5,242.5 1225.5,242.5 1232.5,241.5 1313.5,241.5 1315.5,242.5 1333.5,242.5" fill="none" stroke="#ff0000" stroke-width="1"/>
<polyline points="5.5,200.5 35.5,188.5 55.5,178.5 90.5,164.5 120.5,152.5 140.5,144.5 160.5,140.0 172.5,137.5 181.5,137.5 187.5,139.5 195.5,144.5 205.5,149.5 215.5,153.5 225.5,156.5 250.5,163.5 280.5,168.0 310.5,171.5 340.5,174.0 357.5,175.0 375.5,176.5 400.5,179.5 420.5,179.5 440.5,180.0 460.5,181.5 480.5,183.5 490.5,185.5 500.5,189.5 510.5,191.5 530.5,194.5 550.5,196.0 570.5,196.5 585.5,197.5 595.5,199.5 605.5,201.0 615.5,201.0 625.5,199.0 635.5,193.5 645.5,190.0 660.5,189.5 670.5,189.0 680.5,191.0 705.5,196.5 730.5,209.5 767.5,228.0 805.5,246.5 830.5,259.5 855.5,274.5 875.5,288.0 897.5,300.5 920.5,310.5 942.5,316.0 955.5,320.5 970.5,328.5 985.5,336.5 1000.5,343.5 1015.5,349.5 1025.5,352.5 1035.5,355.5 1050.5,360.0 1065.5,365.0 1075.5,368.5 1085.5,371.5 1100.5,373.0 1115.5,373.0 1125.5,371.5 1140.5,370.0 1150.5,367.5 1160.5,363.5 1175.5,357.5 1190.5,350.5 1200.5,346.5 1215.5,339.5 1230.5,335.5 1245.5,329.5 1260.5,324.5 1275.5,317.5 1290.5,311.5 1303.5,308.5 1333.5,301.0" fill="none" stroke="#ff00ff" stroke-width="1"/>
<polyline points="5.5,140.5 20.5,132.5 40.5,122.5 60.5,111.5 70.5,107.5 90.5,102.5 110.5,101.5 130.5,98.5 145.5,99.5 155.5,101.5 165.5,102.5 175.5,104.5 181.5,107.5 187.5,115.5 195.5,130.5 201.5,142.5 210.5,157.5 220.5,172.5 230.5,186.5 240.5,197.5 250.5,208.5 270.5,229.5 285.5,243.5 300.5,257.5 315.5,265.5 330.5,274.5 340.5,279.0 345.5,278.5 350.5,276.5 353.5,270.5 365.5,250.5 378.5,236.5 390.5,225.5 400.5,215.5 410.5,205.5 425.5,192.5 440.5,181.5 455.5,171.5 467.5,163.0 481.5,156.0 493.5,155.5 501.5,158.0 508.5,155.5 520.5,154.5 529.5,153.0 540.5,151.5 548.5,150.5 565.5,145.0 578.5,145.0 590.5,150.5 602.5,155.5 620.5,157.5 632.5,162.5 645.5,169.0 653.5,177.5 663.5,179.5 670.5,182.5 678.5,191.5 685.5,200.5 690.5,207.5 702.5,224.5 713.5,246.5 725.5,270.5 734.5,290.5 740.5,300.5 750.5,320.5 760.5,337.5 772.5,355.5 785.5,375.5 800.5,390.5 810.5,398.5 820.5,403.5 828.5,410.5 835.5,415.5 845.5,418.5 855.5,420.0 862.5,419.0 870.5,421.5 878.5,420.5 885.5,414.5 895.5,409.5 910.5,403.5 920.5,396.5 930.5,388.5 940.5,381.5 950.5,376.5 960.5,372.5 970.5,369.5 985.5,368.0 995.5,362.5 1005.5,355.5 1020.5,350.5 1030.5,347.5 1040.5,341.5 1050.5,337.5 1060.5,334.5 1070.5,332.5 1080.5,332.5 1090.5,333.5 1100.5,332.5 1115.5,332.0 1125.5,331.5 1135.5,329.5 1150.5,326.5 1165.5,324.5 1175.5,323.0 1185.5,318.5 1195.5,313.5 1210.5,307.5 1225.5,301.5 1235.5,295.5 1250.5,286.5 1265.5,277.5 1280.5,268.5 1293.5,261.0 1310.5,256.5 1325.5,254.0 1333.5,252.0" fill="none" stroke="#ffa500" stroke-width="1"/>
<rect x="5" y="87" width="1684" height="2" fill="#ff0000"/>
<rect x="5" y="153" width="1684" height="2" fill="#ff0000"/>
<rect x="5" y="228" width="1684" height="2" fill="#ff0000"/>
<rect x="5" y="299" width="1684" height="2" fill="#32cd32"/>
<rect x="5" y="356" width="1684" height="2" fill="#4169e1"/>
<rect x="5" y="407" width="1684" height="2" fill="#4169e1"/>
<path d="M1345.7 35h9.5l-4.75 5.2z" fill="#768a9e" shape-rendering="geometricPrecision"/>
</g>
<path d="M8 41h7l-3.5 4z" fill="#000"/>
<text x="19.5" y="46" fill="#000" font-size="10.2" textLength="66" lengthAdjust="spacingAndGlyphs">CHINA300-,H4</text>
<text x="90.5" y="46" fill="#000" font-size="10.2" textLength="122" lengthAdjust="spacingAndGlyphs">3900.8 3908.6 3878.1 3880.4</text>
<text class="cn" x="1380.5" y="202.8" fill="#ff1e00" font-size="32.5" letter-spacing="-0.85">多空转折点<tspan letter-spacing="0.9" dx="2.4">3830</tspan></text>
<rect x="1690" y="38" width="2" height="1" fill="#000"/>
<text x="1695.2" y="42" fill="#000" font-size="10.2" textLength="28" lengthAdjust="spacingAndGlyphs">4268.0</text>
<rect x="1690" y="71" width="2" height="1" fill="#000"/>
<text x="1695.2" y="75" fill="#000" font-size="10.2" textLength="28" lengthAdjust="spacingAndGlyphs">4214.0</text>
<rect x="1690" y="104" width="2" height="1" fill="#000"/>
<text x="1695.2" y="108" fill="#000" font-size="10.2" textLength="28" lengthAdjust="spacingAndGlyphs">4158.5</text>
<rect x="1690" y="137" width="2" height="1" fill="#000"/>
<text x="1695.2" y="141" fill="#000" font-size="10.2" textLength="28" lengthAdjust="spacingAndGlyphs">4103.0</text>
<rect x="1690" y="170" width="2" height="1" fill="#000"/>
<text x="1695.2" y="174" fill="#000" font-size="10.2" textLength="28" lengthAdjust="spacingAndGlyphs">4047.5</text>
<rect x="1690" y="203" width="2" height="1" fill="#000"/>
<text x="1695.2" y="207" fill="#000" font-size="10.2" textLength="28" lengthAdjust="spacingAndGlyphs">3993.5</text>
<rect x="1690" y="236" width="2" height="1" fill="#000"/>
<text x="1695.2" y="240" fill="#000" font-size="10.2" textLength="28" lengthAdjust="spacingAndGlyphs">3938.0</text>
<rect x="1690" y="269" width="2" height="1" fill="#000"/>
<text x="1695.2" y="273" fill="#000" font-size="10.2" textLength="28" lengthAdjust="spacingAndGlyphs">3883.5</text>
<rect x="1690" y="302" width="2" height="1" fill="#000"/>
<text x="1695.2" y="306" fill="#000" font-size="10.2" textLength="28" lengthAdjust="spacingAndGlyphs">3827.0</text>
<rect x="1690" y="335" width="2" height="1" fill="#000"/>
<text x="1695.2" y="339" fill="#000" font-size="10.2" textLength="28" lengthAdjust="spacingAndGlyphs">3771.5</text>
<rect x="1690" y="368" width="2" height="1" fill="#000"/>
<text x="1695.2" y="372" fill="#000" font-size="10.2" textLength="28" lengthAdjust="spacingAndGlyphs">3717.5</text>
<rect x="1690" y="401" width="2" height="1" fill="#000"/>
<text x="1695.2" y="405" fill="#000" font-size="10.2" textLength="28" lengthAdjust="spacingAndGlyphs">3662.0</text>
<rect x="1690" y="434" width="2" height="1" fill="#000"/>
<text x="1695.2" y="438" fill="#000" font-size="10.2" textLength="28" lengthAdjust="spacingAndGlyphs">3606.5</text>
<rect x="1690" y="467" width="2" height="1" fill="#000"/>
<text x="1695.2" y="471" fill="#000" font-size="10.2" textLength="28" lengthAdjust="spacingAndGlyphs">3551.0</text>
<rect x="1690" y="500" width="2" height="1" fill="#000"/>
<text x="1695.2" y="504" fill="#000" font-size="10.2" textLength="28" lengthAdjust="spacingAndGlyphs">3497.0</text>
<rect x="1690" y="533" width="2" height="1" fill="#000"/>
<text x="1695.2" y="537" fill="#000" font-size="10.2" textLength="28" lengthAdjust="spacingAndGlyphs">3441.5</text>
<rect x="1691" y="82" width="34" height="11" fill="#ff0000"/>
<text x="1695.2" y="91" fill="#fff" font-size="10.2" textLength="28" lengthAdjust="spacingAndGlyphs">4185.0</text>
<rect x="1691" y="148" width="34" height="11" fill="#ff0000"/>
<text x="1695.2" y="157" fill="#fff" font-size="10.2" textLength="28" lengthAdjust="spacingAndGlyphs">4075.0</text>
<rect x="1691" y="223" width="34" height="11" fill="#ff0000"/>
<text x="1695.2" y="232" fill="#fff" font-size="10.2" textLength="28" lengthAdjust="spacingAndGlyphs">3950.0</text>
<rect x="1691" y="265" width="34" height="11" fill="#000"/>
<text x="1695.2" y="274" fill="#fff" font-size="10.2" textLength="28" lengthAdjust="spacingAndGlyphs">3880.4</text>
<rect x="1691" y="294" width="34" height="11" fill="#32cd32"/>
<text x="1695.2" y="303" fill="#fff" font-size="10.2" textLength="28" lengthAdjust="spacingAndGlyphs">3830.0</text>
<rect x="1691" y="351" width="34" height="11" fill="#4169e1"/>
<text x="1695.2" y="360" fill="#fff" font-size="10.2" textLength="28" lengthAdjust="spacingAndGlyphs">3735.0</text>
<rect x="1691" y="402" width="34" height="11" fill="#4169e1"/>
<text x="1695.2" y="411" fill="#fff" font-size="10.2" textLength="28" lengthAdjust="spacingAndGlyphs">3650.0</text>
<g id="macd">
<rect x="5" y="551" width="1" height="22" fill="#c0c0c0"/>
<rect x="13" y="551" width="1" height="22" fill="#c0c0c0"/>
<rect x="21" y="552" width="1" height="21" fill="#c0c0c0"/>
<rect x="29" y="552" width="1" height="21" fill="#c0c0c0"/>
<rect x="37" y="552" width="1" height="21" fill="#c0c0c0"/>
<rect x="45" y="552" width="1" height="21" fill="#c0c0c0"/>
<rect x="53" y="552" width="1" height="21" fill="#c0c0c0"/>
<rect x="61" y="551" width="1" height="22" fill="#c0c0c0"/>
<rect x="69" y="552" width="1" height="21" fill="#c0c0c0"/>
<rect x="77" y="553" width="1" height="20" fill="#c0c0c0"/>
<rect x="85" y="554" width="1" height="19" fill="#c0c0c0"/>
<rect x="93" y="556" width="1" height="17" fill="#c0c0c0"/>
<rect x="101" y="558" width="1" height="15" fill="#c0c0c0"/>
<rect x="109" y="559" width="1" height="14" fill="#c0c0c0"/>
<rect x="117" y="560" width="1" height="13" fill="#c0c0c0"/>
<rect x="125" y="559" width="1" height="14" fill="#c0c0c0"/>
<rect x="133" y="559" width="1" height="14" fill="#c0c0c0"/>
<rect x="141" y="562" width="1" height="11" fill="#c0c0c0"/>
<rect x="149" y="565" width="1" height="8" fill="#c0c0c0"/>
<rect x="157" y="568" width="1" height="5" fill="#c0c0c0"/>
<rect x="165" y="569" width="1" height="4" fill="#c0c0c0"/>
<rect x="173" y="572" width="1" height="1" fill="#c0c0c0"/>
<rect x="181" y="572" width="1" height="8" fill="#c0c0c0"/>
<rect x="189" y="572" width="1" height="30" fill="#c0c0c0"/>
<rect x="197" y="572" width="1" height="48" fill="#c0c0c0"/>
<rect x="205" y="572" width="1" height="55" fill="#c0c0c0"/>
<rect x="213" y="572" width="1" height="59" fill="#c0c0c0"/>
<rect x="221" y="572" width="1" height="58" fill="#c0c0c0"/>
<rect x="229" y="572" width="1" height="58" fill="#c0c0c0"/>
<rect x="237" y="572" width="1" height="56" fill="#c0c0c0"/>
<rect x="245" y="572" width="1" height="51" fill="#c0c0c0"/>
<rect x="253" y="572" width="1" height="48" fill="#c0c0c0"/>
<rect x="261" y="572" width="1" height="44" fill="#c0c0c0"/>
<rect x="269" y="572" width="1" height="41" fill="#c0c0c0"/>
<rect x="277" y="572" width="1" height="37" fill="#c0c0c0"/>
<rect x="285" y="572" width="1" height="32" fill="#c0c0c0"/>
<rect x="293" y="572" width="1" height="28" fill="#c0c0c0"/>
<rect x="301" y="572" width="1" height="23" fill="#c0c0c0"/>
<rect x="309" y="572" width="1" height="19" fill="#c0c0c0"/>
<rect x="317" y="572" width="1" height="16" fill="#c0c0c0"/>
<rect x="325" y="572" width="1" height="13" fill="#c0c0c0"/>
<rect x="333" y="572" width="1" height="9" fill="#c0c0c0"/>
<rect x="341" y="572" width="1" height="6" fill="#c0c0c0"/>
<rect x="349" y="572" width="1" height="1" fill="#c0c0c0"/>
<rect x="357" y="568" width="1" height="5" fill="#c0c0c0"/>
<rect x="365" y="565" width="1" height="8" fill="#c0c0c0"/>
<rect x="373" y="563" width="1" height="10" fill="#c0c0c0"/>
<rect x="381" y="560" width="1" height="13" fill="#c0c0c0"/>
<rect x="389" y="559" width="1" height="14" fill="#c0c0c0"/>
<rect x="397" y="557" width="1" height="16" fill="#c0c0c0"/>
<rect x="405" y="553" width="1" height="20" fill="#c0c0c0"/>
<rect x="413" y="549" width="1" height="24" fill="#c0c0c0"/>
<rect x="421" y="546" width="1" height="27" fill="#c0c0c0"/>
<rect x="429" y="545" width="1" height="28" fill="#c0c0c0"/>
<rect x="437" y="546" width="1" height="27" fill="#c0c0c0"/>
<rect x="445" y="549" width="1" height="24" fill="#c0c0c0"/>
<rect x="453" y="550" width="1" height="23" fill="#c0c0c0"/>
<rect x="461" y="550" width="1" height="23" fill="#c0c0c0"/>
<rect x="469" y="553" width="1" height="20" fill="#c0c0c0"/>
<rect x="477" y="554" width="1" height="19" fill="#c0c0c0"/>
<rect x="485" y="556" width="1" height="17" fill="#c0c0c0"/>
<rect x="493" y="565" width="1" height="8" fill="#c0c0c0"/>
<rect x="501" y="572" width="1" height="1" fill="#c0c0c0"/>
<rect x="509" y="571" width="1" height="2" fill="#c0c0c0"/>
<rect x="517" y="571" width="1" height="2" fill="#c0c0c0"/>
<rect x="525" y="568" width="1" height="5" fill="#c0c0c0"/>
<rect x="533" y="568" width="1" height="5" fill="#c0c0c0"/>
<rect x="541" y="567" width="1" height="6" fill="#c0c0c0"/>
<rect x="549" y="565" width="1" height="8" fill="#c0c0c0"/>
<rect x="557" y="561" width="1" height="12" fill="#c0c0c0"/>
<rect x="565" y="557" width="1" height="16" fill="#c0c0c0"/>
<rect x="573" y="557" width="1" height="16" fill="#c0c0c0"/>
<rect x="581" y="557" width="1" height="16" fill="#c0c0c0"/>
<rect x="589" y="564" width="1" height="9" fill="#c0c0c0"/>
<rect x="597" y="570" width="1" height="3" fill="#c0c0c0"/>
<rect x="605" y="571" width="1" height="2" fill="#c0c0c0"/>
<rect x="613" y="571" width="1" height="2" fill="#c0c0c0"/>
<rect x="621" y="571" width="1" height="2" fill="#c0c0c0"/>
<rect x="629" y="572" width="1" height="2" fill="#c0c0c0"/>
<rect x="637" y="572" width="1" height="8" fill="#c0c0c0"/>
<rect x="645" y="572" width="1" height="12" fill="#c0c0c0"/>
<rect x="653" y="572" width="1" height="22" fill="#c0c0c0"/>
<rect x="661" y="572" width="1" height="25" fill="#c0c0c0"/>
<rect x="669" y="572" width="1" height="30" fill="#c0c0c0"/>
<rect x="677" y="572" width="1" height="39" fill="#c0c0c0"/>
<rect x="685" y="572" width="1" height="45" fill="#c0c0c0"/>
<rect x="693" y="572" width="1" height="51" fill="#c0c0c0"/>
<rect x="701" y="572" width="1" height="51" fill="#c0c0c0"/>
<rect x="709" y="572" width="1" height="58" fill="#c0c0c0"/>
<rect x="717" y="572" width="1" height="67" fill="#c0c0c0"/>
<rect x="725" y="572" width="1" height="71" fill="#c0c0c0"/>
<rect x="733" y="572" width="1" height="73" fill="#c0c0c0"/>
<rect x="741" y="572" width="1" height="71" fill="#c0c0c0"/>
<rect x="749" y="572" width="1" height="71" fill="#c0c0c0"/>
<rect x="757" y="572" width="1" height="73" fill="#c0c0c0"/>
<rect x="765" y="572" width="1" height="71" fill="#c0c0c0"/>
<rect x="773" y="572" width="1" height="68" fill="#c0c0c0"/>
<rect x="781" y="572" width="1" height="61" fill="#c0c0c0"/>
<rect x="789" y="572" width="1" height="54" fill="#c0c0c0"/>
<rect x="797" y="572" width="1" height="48" fill="#c0c0c0"/>
<rect x="805" y="572" width="1" height="44" fill="#c0c0c0"/>
<rect x="813" y="572" width="1" height="37" fill="#c0c0c0"/>
<rect x="821" y="572" width="1" height="33" fill="#c0c0c0"/>
<rect x="829" y="572" width="1" height="33" fill="#c0c0c0"/>
<rect x="837" y="572" width="1" height="31" fill="#c0c0c0"/>
<rect x="845" y="572" width="1" height="28" fill="#c0c0c0"/>
<rect x="853" y="572" width="1" height="26" fill="#c0c0c0"/>
<rect x="861" y="572" width="1" height="23" fill="#c0c0c0"/>
<rect x="869" y="572" width="1" height="22" fill="#c0c0c0"/>
<rect x="877" y="572" width="1" height="20" fill="#c0c0c0"/>
<rect x="885" y="572" width="1" height="16" fill="#c0c0c0"/>
<rect x="893" y="572" width="1" height="14" fill="#c0c0c0"/>
<rect x="901" y="572" width="1" height="12" fill="#c0c0c0"/>
<rect x="909" y="572" width="1" height="7" fill="#c0c0c0"/>
<rect x="917" y="572" width="1" height="3" fill="#c0c0c0"/>
<rect x="925" y="572" width="1" height="1" fill="#c0c0c0"/>
<rect x="933" y="570" width="1" height="3" fill="#c0c0c0"/>
<rect x="941" y="568" width="1" height="5" fill="#c0c0c0"/>
<rect x="949" y="566" width="1" height="7" fill="#c0c0c0"/>
<rect x="957" y="565" width="1" height="8" fill="#c0c0c0"/>
<rect x="965" y="565" width="1" height="8" fill="#c0c0c0"/>
<rect x="973" y="565" width="1" height="8" fill="#c0c0c0"/>
<rect x="981" y="566" width="1" height="7" fill="#c0c0c0"/>
<rect x="989" y="565" width="1" height="8" fill="#c0c0c0"/>
<rect x="997" y="563" width="1" height="10" fill="#c0c0c0"/>
<rect x="1005" y="562" width="1" height="11" fill="#c0c0c0"/>
<rect x="1013" y="561" width="1" height="12" fill="#c0c0c0"/>
<rect x="1021" y="563" width="1" height="10" fill="#c0c0c0"/>
<rect x="1029" y="564" width="1" height="9" fill="#c0c0c0"/>
<rect x="1037" y="562" width="1" height="11" fill="#c0c0c0"/>
<rect x="1045" y="562" width="1" height="11" fill="#c0c0c0"/>
<rect x="1053" y="562" width="1" height="11" fill="#c0c0c0"/>
<rect x="1061" y="562" width="1" height="11" fill="#c0c0c0"/>
<rect x="1069" y="564" width="1" height="9" fill="#c0c0c0"/>
<rect x="1077" y="566" width="1" height="7" fill="#c0c0c0"/>
<rect x="1085" y="567" width="1" height="6" fill="#c0c0c0"/>
<rect x="1093" y="567" width="1" height="6" fill="#c0c0c0"/>
<rect x="1101" y="567" width="1" height="6" fill="#c0c0c0"/>
<rect x="1109" y="567" width="1" height="6" fill="#c0c0c0"/>
<rect x="1117" y="567" width="1" height="6" fill="#c0c0c0"/>
<rect x="1125" y="568" width="1" height="5" fill="#c0c0c0"/>
<rect x="1133" y="567" width="1" height="6" fill="#c0c0c0"/>
<rect x="1141" y="566" width="1" height="7" fill="#c0c0c0"/>
<rect x="1149" y="565" width="1" height="8" fill="#c0c0c0"/>
<rect x="1157" y="564" width="1" height="9" fill="#c0c0c0"/>
<rect x="1165" y="563" width="1" height="10" fill="#c0c0c0"/>
<rect x="1173" y="562" width="1" height="11" fill="#c0c0c0"/>
<rect x="1181" y="559" width="1" height="14" fill="#c0c0c0"/>
<rect x="1189" y="556" width="1" height="17" fill="#c0c0c0"/>
<rect x="1197" y="555" width="1" height="18" fill="#c0c0c0"/>
<rect x="1205" y="553" width="1" height="20" fill="#c0c0c0"/>
<rect x="1213" y="552" width="1" height="21" fill="#c0c0c0"/>
<rect x="1221" y="551" width="1" height="22" fill="#c0c0c0"/>
<rect x="1229" y="549" width="1" height="24" fill="#c0c0c0"/>
<rect x="1237" y="548" width="1" height="25" fill="#c0c0c0"/>
<rect x="1245" y="547" width="1" height="26" fill="#c0c0c0"/>
<rect x="1253" y="547" width="1" height="26" fill="#c0c0c0"/>
<rect x="1261" y="547" width="1" height="26" fill="#c0c0c0"/>
<rect x="1269" y="548" width="1" height="25" fill="#c0c0c0"/>
<rect x="1277" y="548" width="1" height="25" fill="#c0c0c0"/>
<rect x="1285" y="549" width="1" height="24" fill="#c0c0c0"/>
<rect x="1293" y="552" width="1" height="21" fill="#c0c0c0"/>
<rect x="1301" y="556" width="1" height="17" fill="#c0c0c0"/>
<rect x="1309" y="558" width="1" height="15" fill="#c0c0c0"/>
<rect x="1317" y="562" width="1" height="11" fill="#c0c0c0"/>
<rect x="1325" y="563" width="1" height="10" fill="#c0c0c0"/>
<rect x="1333" y="564" width="1" height="9" fill="#c0c0c0"/>
<polyline points="5.5,546.5 40.5,549.5 80.5,553.1 110.5,553.5 130.5,556.5 150.5,558.9 165.5,562.5 178.5,564.5 185.5,568.5 195.5,575.5 205.5,584.5 215.5,594.5 225.5,602.5 235.5,610.5 245.5,618.5 252.5,622.5 258.5,624.0 265.5,624.5 275.5,621.5 285.5,619.5 300.5,612.5 315.5,604.5 330.5,597.5 340.5,591.5 350.5,587.0 360.5,582.5 372.5,577.5 382.5,574.5 395.5,567.5 405.5,564.5 415.5,560.5 422.5,557.5 432.5,554.5 445.5,552.0 455.5,551.0 462.5,550.0 470.5,549.0 480.5,549.0 488.5,550.0 495.5,552.5 505.5,556.0 515.5,558.5 525.5,561.0 535.5,563.5 545.5,566.0 553.5,567.0 565.5,567.0 572.5,565.0 578.5,563.5 590.5,563.0 605.5,563.0 620.5,564.0 630.5,565.5 640.5,569.0 650.5,573.5 660.5,578.5 670.5,583.5 680.5,589.0 684.5,590.5 690.5,595.5 697.5,600.0 703.5,603.5 710.5,608.5 715.5,612.5 722.5,617.5 727.5,621.5 733.5,625.0 738.5,628.5 745.5,631.5 750.5,634.0 757.5,637.0 765.5,638.0 770.5,640.5 780.5,640.9 790.5,639.5 797.5,638.0 805.5,634.0 812.5,632.0 822.5,625.5 830.5,622.0 840.5,617.0 850.5,612.0 857.5,608.0 867.5,605.0 877.5,600.0 887.5,597.0 895.5,595.0 905.5,591.5 917.5,588.0 925.5,584.5 935.5,581.5 945.5,577.5 955.5,574.0 965.5,572.5 972.5,569.0 980.5,568.0 990.5,567.0 1000.5,566.0 1010.5,565.0 1015.5,564.0 1025.5,564.0 1032.5,563.5 1040.5,563.0 1055.5,562.0 1072.5,562.0 1077.5,563.0 1095.5,563.5 1110.5,565.0 1120.5,565.0 1125.5,566.0 1135.5,567.0 1150.5,567.0 1157.5,566.0 1175.5,566.0 1182.5,565.0 1190.5,563.0 1200.5,561.5 1210.5,559.5 1220.5,558.0 1230.5,556.0 1237.5,554.0 1245.5,552.5 1252.5,551.0 1260.5,550.0 1270.5,549.0 1285.5,548.5 1297.5,548.5 1305.5,549.0 1315.5,551.0 1320.5,552.5 1328.5,554.0 1333.5,556.0" fill="none" stroke="#ff0000" stroke-width="1" stroke-dasharray="3 3"/>
<text x="9.5" y="551" fill="#000" font-size="10.2" textLength="66" lengthAdjust="spacingAndGlyphs">MACD(12,26,9)</text>
<text x="78" y="551" fill="#000" font-size="10.2" textLength="23" lengthAdjust="spacingAndGlyphs">14.66</text>
<text x="104" y="551" fill="#000" font-size="10.2" textLength="23" lengthAdjust="spacingAndGlyphs">30.06</text>
<rect x="1690" y="540" width="1" height="1" fill="#000"/>
<text x="1693" y="549" fill="#000" font-size="10.2" textLength="23" lengthAdjust="spacingAndGlyphs">56.71</text>
<rect x="1690" y="572" width="1" height="1" fill="#000"/>
<text x="1693" y="576" fill="#000" font-size="10.2" textLength="18" lengthAdjust="spacingAndGlyphs">0.00</text>
<rect x="1690" y="649" width="1" height="1" fill="#000"/>
<text x="1693" y="647" fill="#000" font-size="10.2" textLength="30.5" lengthAdjust="spacingAndGlyphs">-137.01</text>
</g>
<g id="rsi">
<path d="M5 686.5H1689M5 730.5H1689" stroke="#c0c0c0" stroke-width="1" stroke-dasharray="3 3" fill="none"/>
<polyline points="5.5,700.5 13.5,696.9 21.5,693.9 29.5,695.9 37.5,694.9 45.5,692.9 53.5,688.1 61.5,688.5 69.5,691.9 77.5,701.9 85.5,701.9 93.5,701.9 101.5,700.9 109.5,701.9 117.5,699.9 125.5,694.9 133.5,692.5 141.5,711.5 149.5,714.9 157.5,716.9 165.5,710.5 173.5,724.5 181.5,731.1 189.5,748.5 197.5,749.9 205.5,730.5 213.5,728.9 221.5,722.9 229.5,723.9 237.5,719.9 245.5,715.9 253.5,717.9 261.5,714.9 269.5,715.9 277.5,713.9 285.5,710.9 293.5,709.9 301.5,708.5 309.5,706.9 317.5,707.9 325.5,707.9 333.5,703.9 341.5,704.5 349.5,698.5 357.5,694.9 365.5,700.9 373.5,699.9 381.5,696.9 389.5,700.9 397.5,697.9 405.5,693.5 413.5,689.9 421.5,691.9 429.5,695.9 437.5,697.9 445.5,706.9 453.5,700.9 461.5,699.9 469.5,705.9 477.5,702.9 485.5,706.5 493.5,722.9 501.5,721.5 509.5,706.9 517.5,707.9 525.5,702.9 533.5,706.9 541.5,705.5 549.5,703.5 557.5,697.9 565.5,695.9 573.5,701.9 581.5,704.9 589.5,716.5 597.5,717.9 605.5,710.5 613.5,708.9 621.5,708.9 629.5,714.9 637.5,719.9 645.5,717.9 653.5,728.9 661.5,717.9 669.5,722.9 677.5,727.9 685.5,725.9 693.5,727.9 701.5,721.9 709.5,726.9 717.5,731.5 725.5,727.9 733.5,726.5 741.5,721.9 749.5,724.9 757.5,727.9 765.5,721.9 773.5,719.5 781.5,714.1 789.5,712.9 797.5,712.9 805.5,714.9 813.5,708.1 821.5,712.5 829.5,716.9 837.5,714.1 845.5,712.9 853.5,714.1 861.5,710.5 869.5,714.1 877.5,711.9 885.5,706.9 893.5,708.9 901.5,709.9 909.5,702.9 917.5,702.9 925.5,704.9 933.5,703.9 941.5,702.9 949.5,702.9 957.5,702.9 965.5,704.5 973.5,705.9 981.5,707.9 989.5,702.5 997.5,698.9 1005.5,699.9 1013.5,702.9 1021.5,708.9 1029.5,705.9 1037.5,698.9 1045.5,703.9 1053.5,702.9 1061.5,701.9 1069.5,712.9 1077.5,708.9 1085.5,709.9 1093.5,703.9 1101.5,706.9 1109.5,705.9 1117.5,707.9 1125.5,707.9 1133.5,700.9 1141.5,705.9 1149.5,699.9 1157.5,702.9 1165.5,699.9 1173.5,699.5 1181.5,691.9 1189.5,691.9 1197.5,694.9 1205.5,691.9 1213.5,692.9 1221.5,692.9 1229.5,686.9 1237.5,688.9 1245.5,687.5 1253.5,691.5 1261.5,694.9 1269.5,692.9 1277.5,695.9 1285.5,692.9 1293.5,707.9 1301.5,708.9 1309.5,707.9 1317.5,712.9 1325.5,705.9 1333.5,708.9" fill="none" stroke="#1e90ff" stroke-width="1"/>
<text x="9.5" y="664.5" fill="#000" font-size="10.2" textLength="32" lengthAdjust="spacingAndGlyphs">RSI(14)</text>
<text x="43.5" y="664.5" fill="#000" font-size="10.2" textLength="33.5" lengthAdjust="spacingAndGlyphs">49.5103</text>
<rect x="1690" y="654" width="1" height="1" fill="#000"/>
<text x="1693" y="663" fill="#000" font-size="10.2" textLength="15" lengthAdjust="spacingAndGlyphs">100</text>
<rect x="1690" y="686" width="1" height="1" fill="#000"/>
<text x="1692" y="690" fill="#000" font-size="10.2" textLength="10" lengthAdjust="spacingAndGlyphs">70</text>
<rect x="1690" y="730" width="1" height="1" fill="#000"/>
<text x="1692" y="734" fill="#000" font-size="10.2" textLength="10" lengthAdjust="spacingAndGlyphs">30</text>
<rect x="1690" y="762" width="1" height="1" fill="#000"/>
<text x="1693" y="760" fill="#000" font-size="10.2" textLength="5" lengthAdjust="spacingAndGlyphs">0</text>
</g>
<rect x="5" y="764" width="1" height="3" fill="#000"/>
<text x="3.9" y="775.7" fill="#000" font-size="10.2" textLength="44.6" lengthAdjust="spacingAndGlyphs">8 Jan 2020</text>
<rect x="69" y="764" width="1" height="3" fill="#000"/>
<text x="67.9" y="775.7" fill="#000" font-size="10.2" textLength="53.6" lengthAdjust="spacingAndGlyphs">14 Jan 05:00</text>
<rect x="133" y="764" width="1" height="3" fill="#000"/>
<text x="131.9" y="775.7" fill="#000" font-size="10.2" textLength="53.6" lengthAdjust="spacingAndGlyphs">20 Jan 05:00</text>
<rect x="197" y="764" width="1" height="3" fill="#000"/>
<text x="195.9" y="775.7" fill="#000" font-size="10.2" textLength="50.6" lengthAdjust="spacingAndGlyphs">3 Feb 05:00</text>
<rect x="261" y="764" width="1" height="3" fill="#000"/>
<text x="259.9" y="775.7" fill="#000" font-size="10.2" textLength="50.6" lengthAdjust="spacingAndGlyphs">7 Feb 05:00</text>
<rect x="325" y="764" width="1" height="3" fill="#000"/>
<text x="323.9" y="775.7" fill="#000" font-size="10.2" textLength="55.6" lengthAdjust="spacingAndGlyphs">13 Feb 05:00</text>
<rect x="389" y="764" width="1" height="3" fill="#000"/>
<text x="387.9" y="775.7" fill="#000" font-size="10.2" textLength="55.6" lengthAdjust="spacingAndGlyphs">19 Feb 05:00</text>
<rect x="453" y="764" width="1" height="3" fill="#000"/>
<text x="451.9" y="775.7" fill="#000" font-size="10.2" textLength="55.6" lengthAdjust="spacingAndGlyphs">25 Feb 05:00</text>
<rect x="517" y="764" width="1" height="3" fill="#000"/>
<text x="515.9" y="775.7" fill="#000" font-size="10.2" textLength="50.6" lengthAdjust="spacingAndGlyphs">2 Mar 05:00</text>
<rect x="581" y="764" width="1" height="3" fill="#000"/>
<text x="579.9" y="775.7" fill="#000" font-size="10.2" textLength="50.6" lengthAdjust="spacingAndGlyphs">6 Mar 05:00</text>
<rect x="645" y="764" width="1" height="3" fill="#000"/>
<text x="643.9" y="775.7" fill="#000" font-size="10.2" textLength="55.6" lengthAdjust="spacingAndGlyphs">12 Mar 05:00</text>
<rect x="709" y="764" width="1" height="3" fill="#000"/>
<text x="707.9" y="775.7" fill="#000" font-size="10.2" textLength="55.6" lengthAdjust="spacingAndGlyphs">18 Mar 05:00</text>
<rect x="773" y="764" width="1" height="3" fill="#000"/>
<text x="771.9" y="775.7" fill="#000" font-size="10.2" textLength="55.6" lengthAdjust="spacingAndGlyphs">24 Mar 05:00</text>
<rect x="837" y="764" width="1" height="3" fill="#000"/>
<text x="835.9" y="775.7" fill="#000" font-size="10.2" textLength="55.6" lengthAdjust="spacingAndGlyphs">30 Mar 05:00</text>
<rect x="901" y="764" width="1" height="3" fill="#000"/>
<text x="899.9" y="775.7" fill="#000" font-size="10.2" textLength="49.6" lengthAdjust="spacingAndGlyphs">3 Apr 05:00</text>
<rect x="965" y="764" width="1" height="3" fill="#000"/>
<text x="963.9" y="775.7" fill="#000" font-size="10.2" textLength="54.6" lengthAdjust="spacingAndGlyphs">10 Apr 05:00</text>
<rect x="1029" y="764" width="1" height="3" fill="#000"/>
<text x="1027.9" y="775.7" fill="#000" font-size="10.2" textLength="54.6" lengthAdjust="spacingAndGlyphs">16 Apr 05:00</text>
<rect x="1093" y="764" width="1" height="3" fill="#000"/>
<text x="1091.9" y="775.7" fill="#000" font-size="10.2" textLength="54.6" lengthAdjust="spacingAndGlyphs">22 Apr 05:00</text>
<rect x="1157" y="764" width="1" height="3" fill="#000"/>
<text x="1155.9" y="775.7" fill="#000" font-size="10.2" textLength="54.6" lengthAdjust="spacingAndGlyphs">28 Apr 05:00</text>
<rect x="1221" y="764" width="1" height="3" fill="#000"/>
<text x="1219.9" y="775.7" fill="#000" font-size="10.2" textLength="53.6" lengthAdjust="spacingAndGlyphs">7 May 05:00</text>
<rect x="1285" y="764" width="1" height="3" fill="#000"/>
<text x="1283.9" y="775.7" fill="#000" font-size="10.2" textLength="58.6" lengthAdjust="spacingAndGlyphs">13 May 05:00</text>
</svg>
</body></html>
